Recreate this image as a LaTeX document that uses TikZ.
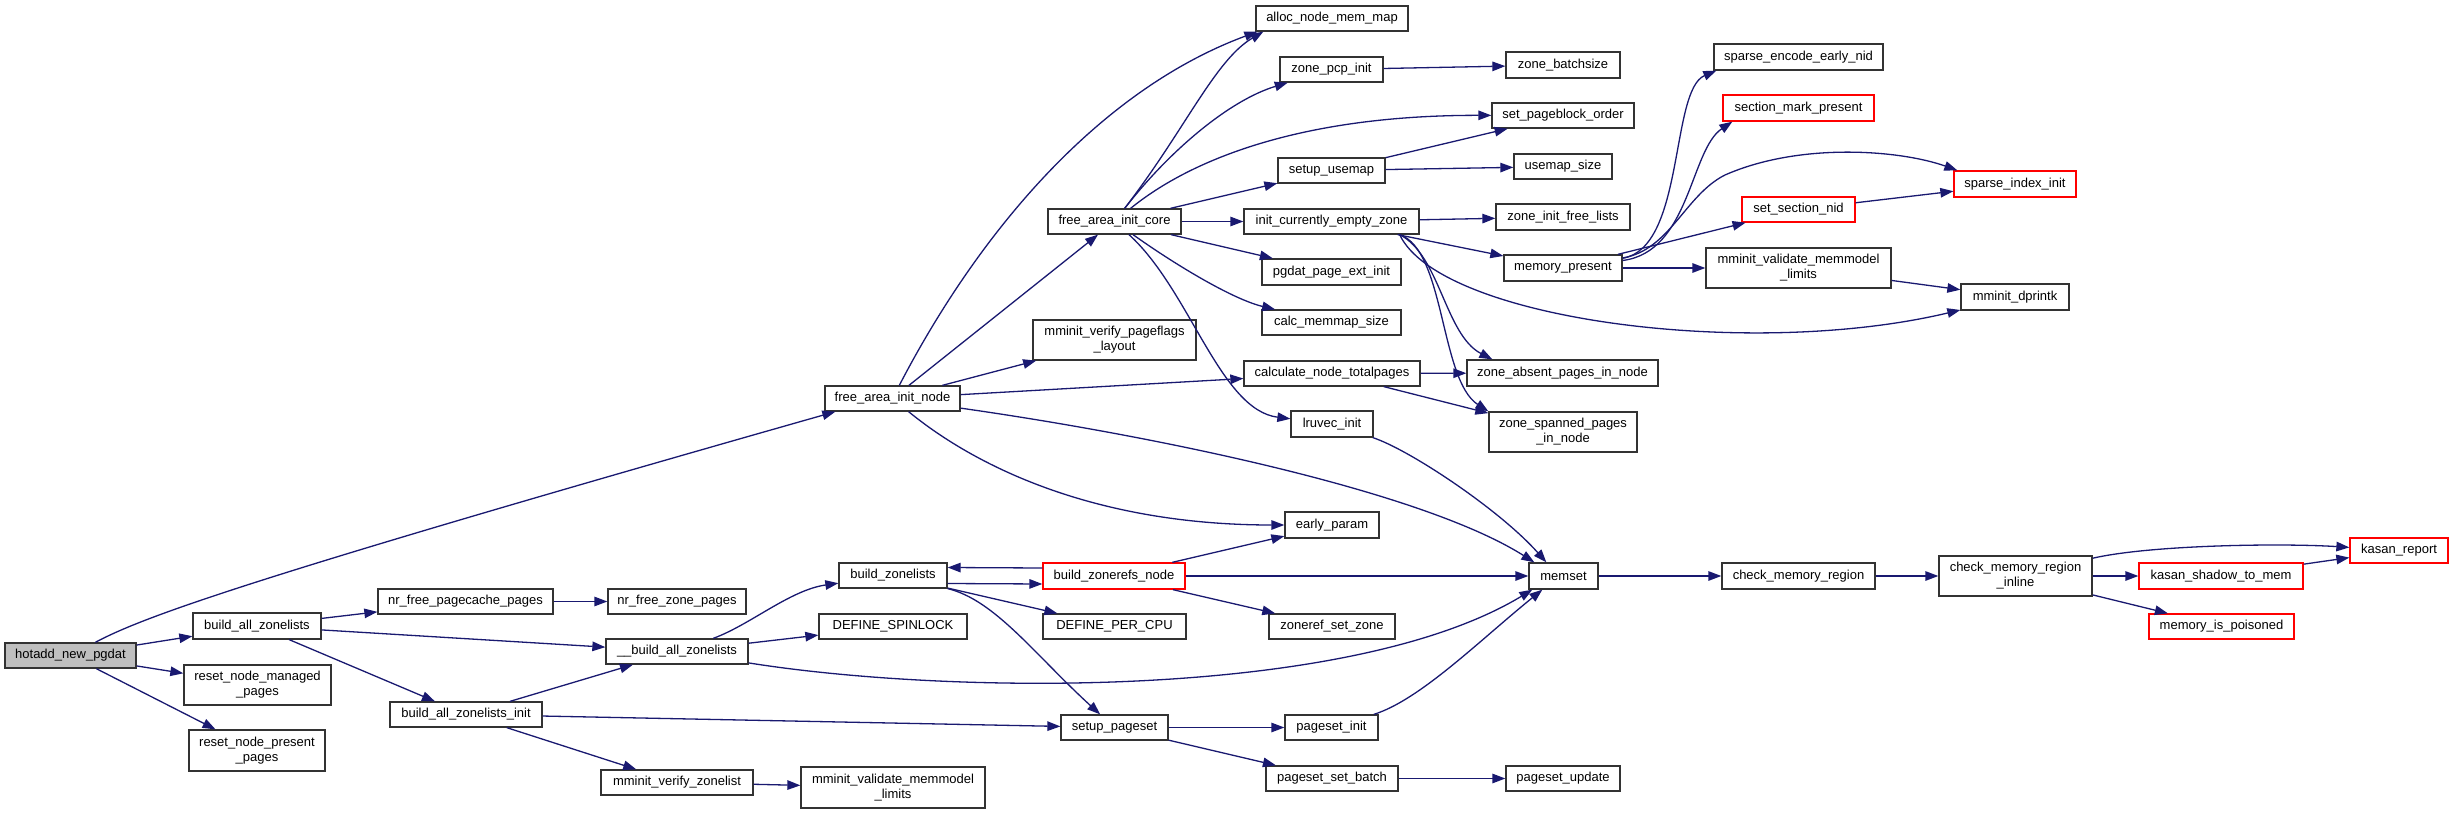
\documentclass[tikz,border=0pt]{standalone}
\usepackage{fontspec}
\setmainfont{Liberation Sans}
\usetikzlibrary{arrows.meta, positioning, calc}
\definecolor{edgeblue}{HTML}{191970}
\definecolor{boxgray}{HTML}{BFBFBF}

\begin{document}
\begin{tikzpicture}[
    x=1pt, y=-1pt,
    fn/.style={draw=black!80, line width=1.3pt, inner sep=0pt, align=center, minimum height=25pt,
               font=\fontsize{13}{15}\selectfont},
    trunc/.style={fn, draw=red},
    call/.style={draw=edgeblue, line width=1.3pt, -{Triangle[length=13pt, width=9.5pt]}}
]
    \useasboundingbox (0,0) rectangle (2453,813);

    % Caller and first level
    \node[fn, fill=boxgray, minimum width=131pt] (hotadd) at (70.5,655.5) {hotadd\_new\_pgdat};
    \node[fn, minimum width=128pt, minimum height=26pt] (buildall) at (257,626) {build\_all\_zonelists};
    \node[fn, minimum width=147pt, minimum height=40pt] (resetmgd) at (257.5,685) {reset\_node\_managed\\\_pages};
    \node[fn, minimum width=136pt, minimum height=41pt] (resetprs) at (257,750.5) {reset\_node\_present\\\_pages};

    % Zonelists
    \node[fn, minimum width=175pt] (pagecache) at (465.5,601.5) {nr\_free\_pagecache\_pages};
    \node[fn, minimum width=152pt] (buildinit) at (466,714.5) {build\_all\_zonelists\_init};
    \node[fn, minimum width=138pt] (zonepages) at (677,601.5) {nr\_free\_zone\_pages};
    \node[fn, minimum width=142pt] (buildall2) at (677,651.5) {\_\_build\_all\_zonelists};
    \node[fn, minimum width=152pt] (verifyzl) at (677,782.5) {mminit\_verify\_zonelist};
    \node[fn, minimum width=108pt] (buildzl) at (893,575.5) {build\_zonelists};
    \node[fn, minimum width=148pt] (spinlock) at (893,626.5) {DEFINE\_SPINLOCK};
    \node[fn, minimum width=184pt, minimum height=41pt] (validate2) at (893,787.5) {mminit\_validate\_memmodel\\\_limits};

    % Node init
    \node[fn, minimum width=135pt] (fainode) at (892.5,398.5) {free\_area\_init\_node};
    \node[fn, minimum width=133pt] (faicore) at (1114.5,221.5) {free\_area\_init\_core};
    \node[fn, minimum width=163pt, minimum height=40pt] (pageflags) at (1114.5,340) {mminit\_verify\_pageflags\\\_layout};
    \node[trunc, minimum width=142pt, minimum height=26pt] (zonerefs) at (1114,576) {build\_zonerefs\_node};
    \node[fn, minimum width=143pt] (percpu) at (1114.5,626.5) {DEFINE\_PER\_CPU};
    \node[fn, minimum width=107pt] (setuppset) at (1114.5,727.5) {setup\_pageset};

    % Callees of free_area_init_core and friends
    \node[fn, minimum width=152pt] (allocmap) at (1332,18.5) {alloc\_node\_mem\_map};
    \node[fn, minimum width=103pt] (pcpinit) at (1331.5,69.5) {zone\_pcp\_init};
    \node[fn, minimum width=107pt] (usemap) at (1331.5,170.5) {setup\_usemap};
    \node[fn, minimum width=175pt] (emptyzone) at (1331.5,221.5) {init\_currently\_empty\_zone};
    \node[fn, minimum width=139pt, minimum height=26pt] (pageext) at (1331.5,272) {pgdat\_page\_ext\_init};
    \node[fn, minimum width=139pt] (memmap) at (1331.5,322.5) {calc\_memmap\_size};
    \node[fn, minimum width=176pt] (totalpages) at (1332,373.5) {calculate\_node\_totalpages};
    \node[fn, minimum width=82pt, minimum height=26pt] (lruvec) at (1332,424) {lruvec\_init};
    \node[fn, minimum width=94pt, minimum height=26pt] (earlyparam) at (1332,525) {early\_param};
    \node[fn, minimum width=126pt] (setzone) at (1332,626.5) {zoneref\_set\_zone};
    \node[fn, minimum width=93pt] (psetinit) at (1331.5,727.5) {pageset\_init};
    \node[fn, minimum width=132pt] (setbatch) at (1332,778.5) {pageset\_set\_batch};

    \node[fn, minimum width=114pt, minimum height=26pt] (batchsize) at (1563,65) {zone\_batchsize};
    \node[fn, minimum width=142pt] (pageblock) at (1563,115.5) {set\_pageblock\_order};
    \node[fn, minimum width=98pt] (usemapsize) at (1563,166.5) {usemap\_size};
    \node[fn, minimum width=134pt, minimum height=26pt] (freelists) at (1563,217) {zone\_init\_free\_lists};
    \node[fn, minimum width=118pt, minimum height=26pt] (mempresent) at (1563,268) {memory\_present};
    \node[fn, minimum width=191pt, minimum height=26pt] (absent) at (1562.5,373) {zone\_absent\_pages\_in\_node};
    \node[fn, minimum width=148pt, minimum height=40pt] (spanned) at (1563,432) {zone\_spanned\_pages\\\_in\_node};
    \node[fn, minimum width=69pt, minimum height=26pt] (memset) at (1563.5,576) {memset};
    \node[fn, minimum width=114pt] (psetupdate) at (1563,778.5) {pageset\_update};

    % Sparse memory
    \node[fn, minimum width=169pt, minimum height=26pt] (encodenid) at (1798.5,57) {sparse\_encode\_early\_nid};
    \node[trunc, minimum width=151pt, minimum height=26pt] (markpresent) at (1798.5,108) {section\_mark\_present};
    \node[trunc, minimum width=113pt] (sectionnid) at (1798.5,209.5) {set\_section\_nid};
    \node[fn, minimum width=185pt, minimum height=40pt] (validate) at (1798.5,268) {mminit\_validate\_memmodel\\\_limits};
    \node[trunc, minimum width=122pt, minimum height=26pt] (indexinit) at (2015,184) {sparse\_index\_init};
    \node[fn, minimum width=108pt, minimum height=26pt] (dprintk) at (2015,297) {mminit\_dprintk};

    % KASAN checks
    \node[fn, minimum width=153pt, minimum height=26pt] (checkregion) at (1798.5,576) {check\_memory\_region};
    \node[fn, minimum width=153pt, minimum height=40pt] (regioninline) at (2015.5,576) {check\_memory\_region\\\_inline};
    \node[trunc, minimum width=164pt, minimum height=26pt] (shadowmem) at (2221,576) {kasan\_shadow\_to\_mem};
    \node[trunc, minimum width=145pt] (poisoned) at (2221.5,626.5) {memory\_is\_poisoned};
    \node[trunc, minimum width=98pt] (kasanreport) at (2399,550.5) {kasan\_report};

    % hotadd_new_pgdat
    \draw[call] (hotadd) .. controls (145,616) and (250,578) .. ([xshift=11pt]fainode.south west);
    \draw[call] (hotadd) -- (buildall);
    \draw[call] (hotadd) -- (resetmgd);
    \draw[call] (hotadd) -- (resetprs);

    % build_all_zonelists
    \draw[call] (buildall) -- (pagecache);
    \draw[call] (buildall) -- (buildall2);
    \draw[call] (buildall) -- (buildinit);
    \draw[call] (pagecache) -- (zonepages);
    \draw[call] (buildinit) -- (buildall2);
    \draw[call] (buildinit) -- (setuppset);
    \draw[call] (buildinit) -- (verifyzl);
    \draw[call] (verifyzl) -- (validate2);

    % __build_all_zonelists
    \draw[call] (buildall2) .. controls (750,625) and (790,590) .. (buildzl);
    \draw[call] (buildall2) -- (spinlock);
    \draw[call] (buildall2) .. controls (950,695) and (1350,700) .. ([xshift=4pt]memset.south west);

    % build_zonelists
    \draw[call] ([yshift=-8pt]buildzl.east) -- ([yshift=-8pt]zonerefs.west);
    \draw[call] ([yshift=8pt]zonerefs.west) -- ([yshift=8pt]buildzl.east);
    \draw[call] (buildzl) -- (percpu);
    \draw[call] (buildzl) .. controls (995,600) and (1035,655) .. (setuppset);
    \draw[call] (zonerefs) -- (earlyparam);
    \draw[call] (zonerefs) -- (memset);
    \draw[call] (zonerefs) -- (setzone);

    % setup_pageset
    \draw[call] (setuppset) -- (psetinit);
    \draw[call] (setuppset) -- (setbatch);
    \draw[call] (psetinit) .. controls (1420,700) and (1480,640) .. ([xshift=14pt]memset.south west);
    \draw[call] (setbatch) -- (psetupdate);

    % memset
    \draw[call] (memset) -- (checkregion);
    \draw[call] (checkregion) -- (regioninline);
    \draw[call] (regioninline) .. controls (2150,545) and (2280,543) .. (kasanreport);
    \draw[call] (regioninline) -- (shadowmem);
    \draw[call] (regioninline) -- (poisoned);
    \draw[call] (shadowmem) -- (kasanreport);

    % free_area_init_node
    \draw[call] (fainode) .. controls (980,230) and (1100,90) .. ([xshift=2pt]allocmap.south west);
    \draw[call] (fainode) -- (faicore);
    \draw[call] (fainode) -- (pageflags);
    \draw[call] (fainode) -- (totalpages);
    \draw[call] (fainode) .. controls (1150,435) and (1420,490) .. ([xshift=6pt]memset.north west);
    \draw[call] (fainode) .. controls (980,470) and (1100,525) .. (earlyparam);

    % free_area_init_core
    \draw[call] (faicore) .. controls (1185,130) and (1215,60) .. ([xshift=8pt]allocmap.south west);
    \draw[call] (faicore) .. controls (1170,150) and (1230,100) .. (pcpinit);
    \draw[call] (faicore) .. controls (1190,160) and (1300,115) .. (pageblock);
    \draw[call] (faicore) -- (usemap);
    \draw[call] (faicore) -- (emptyzone);
    \draw[call] (faicore) -- (pageext);
    \draw[call] (faicore) .. controls (1180,268) and (1235,300) .. (memmap);
    \draw[call] (faicore) .. controls (1190,290) and (1220,410) .. (lruvec);

    \draw[call] (pcpinit) -- (batchsize);
    \draw[call] (usemap) -- (pageblock);
    \draw[call] (usemap) -- (usemapsize);
    \draw[call] (emptyzone) -- (freelists);
    \draw[call] ([xshift=-22pt]emptyzone.south east) -- (mempresent);
    \draw[call] ([xshift=-20pt]emptyzone.south east) .. controls (1440,320) and (1750,360) .. (dprintk);
    \draw[call] ([xshift=-20pt]emptyzone.south east) .. controls (1440,255) and (1445,335) .. ([xshift=26pt]absent.north west);
    \draw[call] ([xshift=-20pt]emptyzone.south east) .. controls (1445,250) and (1440,380) .. (spanned.north west);
    \draw[call] (totalpages) -- (absent);
    \draw[call] (totalpages) -- (spanned);
    \draw[call] (lruvec) .. controls (1410,450) and (1500,510) .. ([xshift=18pt]memset.north west);

    % memory_present
    \draw[call] (mempresent) .. controls (1685,248) and (1670,90) .. ([xshift=3pt]encodenid.south west);
    \draw[call] (mempresent) .. controls (1690,252) and (1690,150) .. ([xshift=10pt]markpresent.south west);
    \draw[call] (mempresent) .. controls (1670,250) and (1685,195) .. (1725,175)
        .. controls (1800,142) and (1900,150) .. ([xshift=4pt]indexinit.north west);
    \draw[call] (mempresent) -- (sectionnid);
    \draw[call] (mempresent) -- (validate);
    \draw[call] (sectionnid) -- (indexinit);
    \draw[call] (validate) -- (dprintk);
\end{tikzpicture}
\end{document}
